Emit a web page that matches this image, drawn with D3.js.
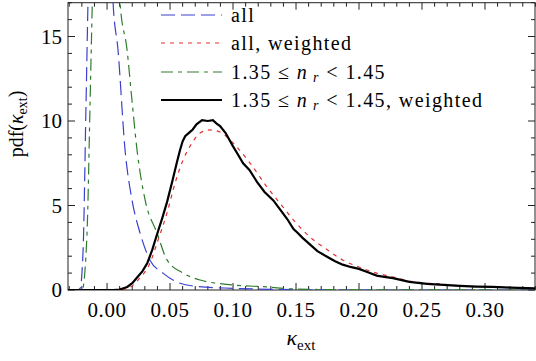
<!DOCTYPE html>
<html>
<head>
<meta charset="utf-8">
<script src="https://cdn.jsdelivr.net/npm/d3@7"></script>
<style>
  body { margin: 0; background: #fff; }
  svg text { font-family: "Liberation Serif", "Tinos", "Times New Roman", "DejaVu Serif", "Noto Serif", serif; fill: #000; }
  .frame { fill: none; stroke: #222; stroke-width: 1; }
  .tick { stroke: #222; stroke-width: 1; }
  .curve { fill: none; }
</style>
</head>
<body>
<svg width="536" height="361"></svg>
<script>
// series, [kappa_ext, pdf]
var allData = [[-0.031,0],[-0.024,0],[-0.0214,0.1],[-0.019,2.4],[-0.0167,11],[-0.015,17.5],[-0.012,26],
  [-0.008,32],[-0.004,33],[0.0,30],[0.003,22],[0.0048,17],[0.0087,14.2],[0.0143,8.28],[0.0198,5.33],
  [0.0262,3.37],[0.034,1.78],[0.0444,1.0],[0.0556,0.47],[0.07,0.22],[0.1,0.1],[0.13,0.04],[0.16,0.01],
  [0.2,0],[0.34,0]];

var allWeighted = [[-0.031,0],[0.01,0],[0.018,0.15],[0.0246,0.59],[0.0341,1.6],[0.0405,2.96],[0.0476,4.56],
  [0.054,6.33],[0.0603,7.69],[0.0675,8.7],[0.0738,9.29],[0.0817,9.47],[0.0897,9.35],[0.1,8.7],
  [0.1135,7.51],[0.127,6.09],[0.1397,4.91],[0.148,4.14],[0.161,3.14],[0.175,2.37],[0.187,1.78],
  [0.2,1.36],[0.214,1.0],[0.227,0.77],[0.24,0.53],[0.254,0.41],[0.267,0.35],[0.28,0.24],
  [0.306,0.18],[0.333,0.12],[0.34,0.1]];

var nrData = [[-0.031,0],[-0.0198,0],[-0.0159,3.37],[-0.0135,11],[-0.0119,16.4],[-0.01,22],[-0.005,28],
  [0.0,30],[0.005,26],[0.0103,17],[0.0159,14.2],[0.0198,11.2],[0.0238,8.28],[0.0302,5.33],
  [0.0397,3.37],[0.0476,1.78],[0.0603,1.0],[0.0738,0.59],[0.1,0.3],[0.127,0.18],[0.148,0.06],
  [0.2,0.01],[0.34,0]];

var nrWeighted = [[-0.031,0],[0.005,0],[0.01,0.03],[0.016,0.18],[0.02,0.4],[0.024,0.75],[0.028,1.1],
  [0.032,1.6],[0.036,2.4],[0.0397,3.3],[0.044,4.3],[0.0476,5.2],[0.052,6.5],[0.0556,7.6],[0.058,8.3],
  [0.06,8.8],[0.062,9.1],[0.065,9.3],[0.068,9.5],[0.071,9.8],[0.0754,10.05],[0.08,10.0],[0.084,10.05],
  [0.087,9.85],[0.0897,9.7],[0.094,9.3],[0.1,8.5],[0.104,8.0],[0.108,7.5],[0.113,7.1],[0.119,6.4],
  [0.125,5.8],[0.132,5.3],[0.137,4.8],[0.143,4.2],[0.148,3.6],[0.151,3.4],[0.155,3.1],[0.161,2.7],
  [0.167,2.3],[0.175,1.95],[0.181,1.7],[0.187,1.5],[0.194,1.35],[0.2,1.25],[0.207,1.05],[0.214,0.85],
  [0.22,0.78],[0.227,0.7],[0.233,0.6],[0.24,0.48],[0.247,0.42],[0.254,0.36],[0.267,0.3],[0.28,0.24],
  [0.293,0.2],[0.306,0.18],[0.32,0.14],[0.333,0.11],[0.34,0.1]];

var xTicks = [0.00, 0.05, 0.10, 0.15, 0.20, 0.25, 0.30];
var yTicks = [0, 5, 10, 15];

var svg = d3.select("svg");

var x = d3.scaleLinear().domain([-0.031, 0.3397]).range([68, 535]);
var y = d3.scaleLinear().domain([0, 17]).range([290, 2.7]);

svg.append("clipPath").attr("id", "plotclip")
  .append("rect")
    .attr("x", 68).attr("y", 2.7)
    .attr("width", 467).attr("height", 287.3);

//
// minor / major ticks on all four sides, pointing inwards
//
var xMinor = d3.range(-30, 341, 10).map(function(d) { return d / 1000; });
var yMinor = d3.range(0, 18);

var tickG = svg.append("g");
xMinor.forEach(function(v) {
  var major = Math.abs(Math.round(v * 1000) % 50) === 0;
  var len = major ? 7 : 4;
  tickG.append("line").attr("class", "tick")
    .attr("x1", x(v)).attr("x2", x(v)).attr("y1", 290).attr("y2", 290 - len);
  tickG.append("line").attr("class", "tick")
    .attr("x1", x(v)).attr("x2", x(v)).attr("y1", 2.7).attr("y2", 2.7 + len);
});
yMinor.forEach(function(v) {
  var major = v % 5 === 0;
  var len = major ? 7 : 4;
  tickG.append("line").attr("class", "tick")
    .attr("x1", 68).attr("x2", 68 + len).attr("y1", y(v)).attr("y2", y(v));
  tickG.append("line").attr("class", "tick")
    .attr("x1", 535).attr("x2", 535 - len).attr("y1", y(v)).attr("y2", y(v));
});

svg.append("rect").attr("class", "frame")
  .attr("x", 68).attr("y", 2.7).attr("width", 467).attr("height", 287.3);

// tick labels
svg.selectAll(".xlab").data(xTicks).enter().append("text")
  .attr("x", function(d) { return x(d); })
  .attr("y", 317)
  .attr("text-anchor", "middle")
  .style("font-size", "21px")
  .style("letter-spacing", "0.6px")
  .text(function(d) { return d3.format(".2f")(d); });

svg.selectAll(".ylab").data(yTicks).enter().append("text")
  .attr("x", 62)
  .attr("y", function(d) { return y(d) + 7; })
  .attr("text-anchor", "end")
  .style("font-size", "21px")
  .text(function(d) { return d; });

// axis titles
var xt = svg.append("text").attr("x", 301).attr("y", 345)
  .attr("text-anchor", "middle").style("font-size", "22px");
xt.append("tspan").style("font-style", "italic").text("κ");
xt.append("tspan").attr("dy", 5).style("font-size", "15px").text("ext");

var yt = svg.append("text")
  .attr("transform", "translate(23,124) rotate(-90)")
  .attr("text-anchor", "middle").style("font-size", "20px");
yt.append("tspan").text("pdf(");
yt.append("tspan").style("font-style", "italic").text("κ");
yt.append("tspan").attr("dy", 4).style("font-size", "14px").text("ext");
yt.append("tspan").attr("dy", -4).text(")");

//
// curves
//
var line = d3.line()
  .x(function(d) { return x(d[0]); })
  .y(function(d) { return y(d[1]); });

var series = [
  {data: allData, color: "#3a3fd0", dash: "14,6", width: 1.2, curve: d3.curveMonotoneX},
  {data: allWeighted, color: "#e03232", dash: "4,5", width: 1.2, curve: d3.curveMonotoneX},
  {data: nrData, color: "#2e7d2e", dash: "12,5,4,5", width: 1.2, curve: d3.curveMonotoneX},
  {data: nrWeighted, color: "#000", dash: null, width: 2.2, curve: d3.curveLinear}
];

var plot = svg.append("g").attr("clip-path", "url(#plotclip)");
series.forEach(function(s) {
  plot.append("path").attr("class", "curve")
    .datum(s.data)
    .attr("d", line.curve(s.curve))
    .style("stroke", s.color)
    .style("stroke-width", s.width)
    .style("stroke-dasharray", s.dash);
});

//
// legend
//
var legY = [15, 43, 72, 100];
var legend = svg.append("g");
series.forEach(function(s, i) {
  legend.append("line")
    .attr("x1", 161).attr("x2", 222)
    .attr("y1", legY[i]).attr("y2", legY[i])
    .style("stroke", s.color)
    .style("stroke-width", s.width)
    .style("stroke-dasharray", s.dash);
});

function addLabel(i, parts) {
  var t = legend.append("text").attr("x", 231).attr("y", legY[i] + 7)
    .style("font-size", "20px").style("letter-spacing", "1.4px");
  parts.forEach(function(p) {
    var ts = t.append("tspan").text(p.t);
    if (p.it) ts.style("font-style", "italic");
    if (p.sub) ts.attr("dy", 3).style("font-size", "14px");
    if (p.up) ts.attr("dy", -3);
  });
}
addLabel(0, [{t: "all"}]);
addLabel(1, [{t: "all, weighted"}]);
addLabel(2, [{t: "1.35 ≤ "}, {t: "n", it: true}, {t: " r", it: true, sub: true}, {t: " < 1.45", up: true}]);
addLabel(3, [{t: "1.35 ≤ "}, {t: "n", it: true}, {t: " r", it: true, sub: true}, {t: " < 1.45, weighted", up: true}]);
</script>
</body>
</html>
